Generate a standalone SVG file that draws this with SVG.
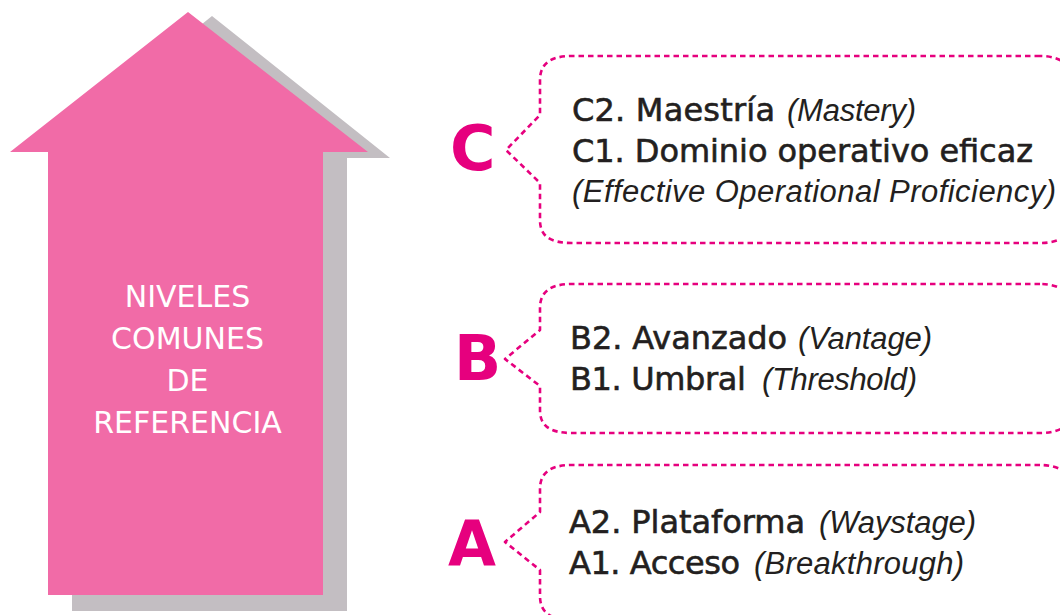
<svg xmlns="http://www.w3.org/2000/svg" width="1060" height="615" viewBox="0 0 1060 615">
<style>
.brace{fill:none;stroke:#E6007E;stroke-width:2.6;stroke-dasharray:5.5 4;stroke-linejoin:round}
.lvl{font-family:"DejaVu Sans","Liberation Sans",sans-serif;font-weight:bold;font-size:62px;fill:#E6007E}
.main{font-family:"DejaVu Sans","Liberation Sans",sans-serif;font-size:32px;fill:#231F20;stroke:#231F20;stroke-width:0.6}
.eng{font-family:"Liberation Sans",Arial,sans-serif;font-style:italic;font-size:31px;fill:#231F20}
.arrtxt{font-family:"DejaVu Sans","Liberation Sans",sans-serif;font-size:30px;fill:#FFFFFF;text-anchor:middle}
</style>
<rect width="1060" height="615" fill="#FFFFFF"/>
<g id="arrow">
<polygon points="212,16 390,158 347,158 347,611 72,611 72,400 150,66" fill="#C3BEC2"/>
<polygon points="188,12 368,152 323,152 323,595 48,595 48,152 10,152" fill="#F16BA7"/>
<text class="arrtxt" x="187.5" y="307">NIVELES</text>
<text class="arrtxt" x="187.5" y="349">COMUNES</text>
<text class="arrtxt" x="187.5" y="391">DE</text>
<text class="arrtxt" x="187.5" y="433">REFERENCIA</text>
</g>
<g id="connectors">
<path class="brace" d="M1040 56 H572 C550 56 540 64 540 80 V115 L506 150 L540 183 V220 C540 236 550 243 572 243 H1040 C1060 243 1075 235 1075 215 V85 C1075 65 1060 56 1040 56 Z"/>
<path class="brace" d="M1040 284 H572 C550 284 540 292 540 308 V330 L505 359 L540 386 V410 C540 426 550 433 572 433 H1040 C1060 433 1075 425 1075 405 V313 C1075 293 1060 284 1040 284 Z"/>
<path class="brace" d="M1040 465 H572 C550 465 540 473 540 489 V512 L505 542 L540 570 V596 C540 612 550 620 572 620 H1040 C1060 620 1075 612 1075 592 V494 C1075 474 1060 465 1040 465 Z"/>
</g>
<g id="level-C">
<text class="lvl" x="450" y="170">C</text>
<text class="main" x="572" y="121" textLength="203">C2. Maestría</text>
<text class="eng" x="787" y="121" textLength="129">(Mastery)</text>
<text class="main" x="572" y="162" textLength="461">C1. Dominio operativo eficaz</text>
<text class="eng" x="572" y="202" textLength="484">(Effective Operational Proficiency)</text>
</g>
<g id="level-B">
<text class="lvl" x="454" y="380">B</text>
<text class="main" x="570" y="349" textLength="217">B2. Avanzado</text>
<text class="eng" x="798" y="349" textLength="134">(Vantage)</text>
<text class="main" x="570" y="390" textLength="176">B1. Umbral</text>
<text class="eng" x="762" y="390" textLength="155">(Threshold)</text>
</g>
<g id="level-A">
<text class="lvl" x="448" y="565">A</text>
<text class="main" x="569" y="533" textLength="236">A2. Plataforma</text>
<text class="eng" x="819" y="533" textLength="157">(Waystage)</text>
<text class="main" x="569" y="574" textLength="171">A1. Acceso</text>
<text class="eng" x="754" y="574" textLength="210">(Breakthrough)</text>
</g>
</svg>
